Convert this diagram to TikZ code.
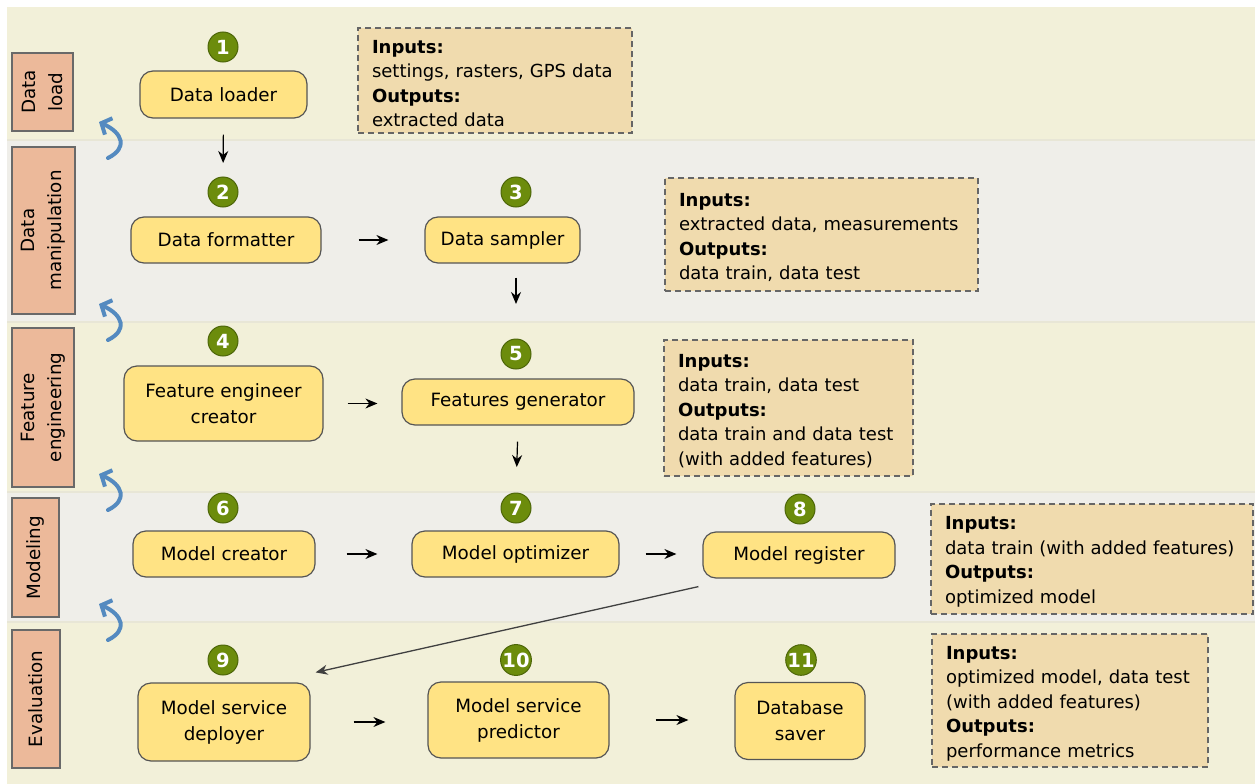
\documentclass[tikz,border=0pt]{standalone}
\usepackage{fontspec}
\setmainfont{DejaVu Sans}
\usetikzlibrary{arrows.meta,calc}
\definecolor{bandY}{RGB}{242,240,217}
\definecolor{bandG}{RGB}{239,238,233}
\definecolor{bandSep}{RGB}{232,230,214}
\definecolor{nodeFill}{RGB}{255,227,132}
\definecolor{nodeBorder}{RGB}{85,85,85}
\definecolor{boxFill}{RGB}{240,219,174}
\definecolor{labFill}{RGB}{236,185,154}
\definecolor{labBorder}{RGB}{105,105,105}
\definecolor{numFill}{RGB}{108,140,12}
\definecolor{numBorder}{RGB}{77,102,8}
\definecolor{blueArr}{RGB}{84,138,192}
\newcommand{\iotop}{\rule{0pt}{19pt}}
\begin{document}
\begin{tikzpicture}[x=1pt,y=-1pt,
  stepbox/.style={draw=nodeBorder, fill=nodeFill, rounded corners=13pt, line width=1.2pt,
    align=center, inner sep=0pt, font=\fontsize{18.3}{26}\selectfont},
  iobox/.style={draw=nodeBorder!90, fill=boxFill, line width=1.3pt, dash pattern=on 6pt off 4pt,
    align=left, inner xsep=14pt, inner ysep=0pt, font=\fontsize{18}{24.5}\selectfont},
  stagelab/.style={draw=labBorder, fill=labFill, line width=1.2pt, rotate=90, align=center,
    inner sep=0pt, font=\fontsize{18.3}{27}\selectfont},
  num/.style={circle, draw=numBorder, fill=numFill, line width=1pt, minimum size=30pt,
    inner sep=0pt, text=white, font=\bfseries\fontsize{19.5}{19.5}\selectfont},
  conn/.style={-{Stealth[length=12pt,width=10pt]}, line width=1.2pt, black},
  back/.style={-{Straight Barb[length=8pt,width=18pt]}, line width=4pt, blueArr, line cap=round}
  ]
\useasboundingbox (0,0) rectangle (1255,784);
\fill[white] (0,0) rectangle (1255,784);
% bands
\fill[bandY] (7,7) rectangle (1255,140);
\fill[bandG] (7,140) rectangle (1255,322);
\fill[bandY] (7,322) rectangle (1255,492);
\fill[bandG] (7,492) rectangle (1255,622);
\fill[bandY] (7,622) rectangle (1255,784);
\foreach \b in {140,322,492,622}{\draw[bandSep, line width=2.5pt] (7,\b) -- (1255,\b);}

% stage labels
\node[stagelab, minimum width=78pt, minimum height=61pt] (L1) at (42.5,92) {Data\\load};
\node[stagelab, minimum width=167pt, minimum height=63pt] (L2) at (43.5,230.5) {Data\\manipulation};
\node[stagelab, minimum width=159pt, minimum height=62pt] (L3) at (43,407.5) {Feature\\engineering};
\node[stagelab, minimum width=119pt, minimum height=47pt] (L4) at (35.5,557.5) {Modeling};
\node[stagelab, minimum width=138pt, minimum height=48pt] (L5) at (36,699) {Evaluation};

% blue back arrows
\foreach \b/\nm in {140/ba1,322/ba2,492/ba3,622/ba4}{
  \coordinate (\nm s) at (108,\b+18);
  \coordinate (\nm e) at (99,\b-18);
  \draw[back] (\nm s) .. controls (128,\b+8) and (123,\b-7) .. (\nm e);
}

% steps
\node[stepbox, minimum width=167pt, minimum height=47pt] (n1) at (223.5,94.5) {Data loader};
\node[stepbox, minimum width=190pt, minimum height=46pt] (n2) at (226,240) {Data formatter};
\node[stepbox, minimum width=155pt, minimum height=46pt] (n3) at (502.5,240) {Data sampler};
\node[stepbox, minimum width=199pt, minimum height=75pt] (n4) at (223.5,403.5) {Feature engineer\\creator};
\node[stepbox, minimum width=232pt, minimum height=46pt] (n5) at (518,402) {Features generator};
\node[stepbox, minimum width=182pt, minimum height=46pt] (n6) at (224,554) {Model creator};
\node[stepbox, minimum width=207pt, minimum height=46pt] (n7) at (515.5,554) {Model optimizer};
\node[stepbox, minimum width=192pt, minimum height=46pt] (n8) at (799,555) {Model register};
\node[stepbox, minimum width=172pt, minimum height=78pt] (n9) at (224,722) {Model service\\deployer};
\node[stepbox, minimum width=181pt, minimum height=76pt] (n10) at (518.5,720) {Model service\\predictor};
\node[stepbox, minimum width=130pt, minimum height=77pt] (n11) at (800,721) {Database\\saver};

% numbers
\node[num] (c1) at (223,47) {1};
\node[num] (c2) at (223,192) {2};
\node[num] (c3) at (516,192) {3};
\node[num] (c4) at (223,341) {4};
\node[num] (c5) at (516,354) {5};
\node[num] (c6) at (223,508) {6};
\node[num] (c7) at (516,508) {7};
\node[num] (c8) at (800,509) {8};
\node[num] (c9) at (223,660) {9};
\node[num] (c10) at (516,660) {10};
\node[num] (c11) at (801,660) {11};

% io boxes
\node[iobox, minimum width=274pt, minimum height=105pt, text width=246pt] (bA) at (495,80.5)
  {\iotop\textbf{Inputs:}\\settings, rasters, GPS data\\\textbf{Outputs:}\\extracted data};
\node[iobox, minimum width=313pt, minimum height=113pt, text width=285pt] (bB) at (821.5,234.5)
  {\iotop\textbf{Inputs:}\\extracted data, measurements\\\textbf{Outputs:}\\data train, data test};
\node[iobox, minimum width=249pt, minimum height=136pt, text width=221pt] (bC) at (788.5,408)
  {\iotop\textbf{Inputs:}\\data train, data test\\\textbf{Outputs:}\\data train and data test\\(with added features)};
\node[iobox, minimum width=322pt, minimum height=110pt, text width=294pt] (bD) at (1092,559)
  {\iotop\textbf{Inputs:}\\data train (with added features)\\\textbf{Outputs:}\\optimized model};
\node[iobox, minimum width=276pt, minimum height=133pt, text width=248pt] (bE) at (1070,700.5)
  {\iotop\textbf{Inputs:}\\optimized model, data test\\(with added features)\\\textbf{Outputs:}\\performance metrics};

% connectors
\draw[conn, shorten <=16pt, shorten >=13.5pt] (n1.south) -- (c2.north);
\draw[conn, shorten <=37pt, shorten >=36pt] (n2.east) -- (n3.west);
\draw[conn, shorten <=14pt, shorten >=34.5pt] (n3.south -| c5) -- (c5.north);
\draw[conn, shorten <=24pt, shorten >=24pt] (n4.east) -- (n4.east -| n5.west);
\draw[conn, shorten <=16pt, shorten >=25.5pt] (n5.south) -- (c7.north);
\draw[conn, shorten <=31pt, shorten >=34pt] (n6.east) -- (n7.west);
\draw[conn, shorten <=26pt, shorten >=26pt] (n7.east) -- (n7.east -| n8.west);
\coordinate (r8) at ($(n8.south west)+(-4,8)$);
\coordinate (r9) at ($(n9.north east)+(5,-10)$);
\draw[conn, draw=black!75, line width=1.3pt] (r8) -- (r9);
\draw[conn, shorten <=43pt, shorten >=42pt] (n9.east) -- (n9.east -| n10.west);
\draw[conn, shorten <=46pt, shorten >=46pt] (n10.east) -- (n10.east -| n11.west);
\end{tikzpicture}
\end{document}
